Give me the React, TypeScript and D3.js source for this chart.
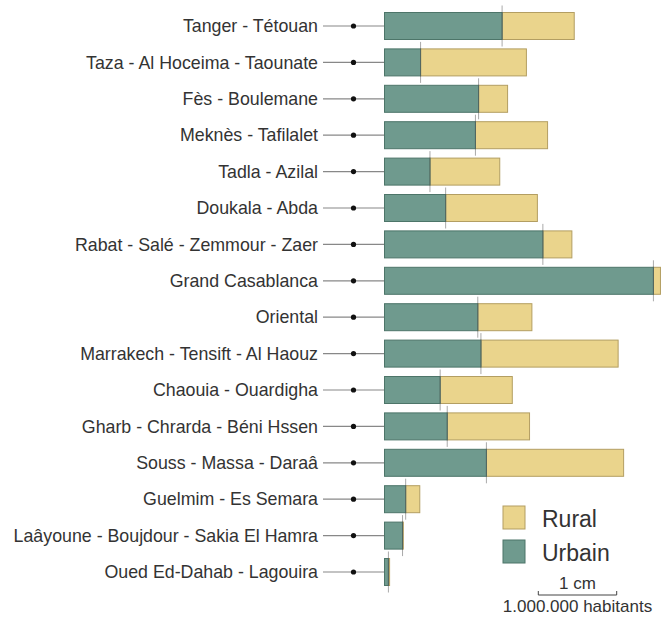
import React from "react";
import * as d3 from "d3";

const regions = [
  "Tanger - Tétouan",
  "Taza - Al Hoceima - Taounate",
  "Fès - Boulemane",
  "Meknès - Tafilalet",
  "Tadla - Azilal",
  "Doukala - Abda",
  "Rabat - Salé - Zemmour - Zaer",
  "Grand Casablanca",
  "Oriental",
  "Marrakech - Tensift - Al Haouz",
  "Chaouia - Ouardigha",
  "Gharb - Chrarda - Béni Hssen",
  "Souss - Massa - Daraâ",
  "Guelmim - Es Semara",
  "Laâyoune - Boujdour - Sakia El Hamra",
  "Oued Ed-Dahab - Lagouira",
];

// millions d'habitants
const urbain = [1.50, 0.46, 1.20, 1.16, 0.58, 0.78, 2.02, 3.43, 1.19, 1.23, 0.71, 0.80, 1.30, 0.27, 0.23, 0.05];
const rural = [0.92, 1.35, 0.37, 0.92, 0.89, 1.17, 0.37, 0.09, 0.69, 1.75, 0.92, 1.05, 1.75, 0.18, 0.01, 0.015];

const legendLabels = ["Rural", "Urbain"];
const scaleValue = 1;
const scaleTop = "1 cm";
const scaleBottom = "1.000.000 habitants";

const W = 663;
const H = 618;
const URB = "#6f9a8e";
const URB_S = "#4d7569";
const RUR = "#ead48c";
const RUR_S = "#b39e62";
const FONT = "'Liberation Sans', Arial, sans-serif";

export default function App() {
  const x = d3.scaleLinear().domain([0, 1]).range([384.5, 384.5 + 78.4]);
  const y = d3.scalePoint<string>().domain(regions).range([26, 572]);
  const bh = 27;
  const sx0 = 538.3;
  const sx1 = sx0 + (x(scaleValue) - x(0));
  const scx = (sx0 + sx1) / 2;

  return (
    <svg
      width={W}
      height={H}
      style={{ position: "absolute", left: 0, top: 0, background: "#fff" }}
      fontFamily={FONT}
    >
      {regions.map((r, i) => {
        const cy = y(r)!;
        const u = urbain[i];
        const ru = rural[i];
        return (
          <g key={r}>
            <text x={318} y={cy} dy="0.35em" textAnchor="end" fontSize={17.8} fill="#333">
              {r}
            </text>
            <line x1={323} x2={x(0)} y1={cy} y2={cy} stroke="#888" strokeWidth={1.2} />
            <circle cx={353.5} cy={cy} r={2.6} fill="#111" />
            <rect
              x={x(u)}
              y={cy - bh / 2}
              width={x(u + ru) - x(u)}
              height={bh}
              fill={RUR}
              stroke={RUR_S}
              strokeWidth={1}
            />
            <rect
              x={x(0)}
              y={cy - bh / 2}
              width={x(u) - x(0)}
              height={bh}
              fill={URB}
              stroke={URB_S}
              strokeWidth={1}
            />
            <line
              x1={x(u)}
              x2={x(u)}
              y1={cy - bh / 2 - 7}
              y2={cy + bh / 2 + 7}
              stroke="#555"
              strokeOpacity={0.5}
              strokeWidth={1}
            />
          </g>
        );
      })}

      {legendLabels.map((l, i) => (
        <g key={l} transform={`translate(503,${506 + i * 34})`}>
          <rect width={22} height={23} fill={i === 0 ? RUR : URB} stroke={i === 0 ? RUR_S : URB_S} strokeWidth={1} />
          <text x={39} y={20.5} fontSize={23} fill="#333">
            {l}
          </text>
        </g>
      ))}

      <g>
        <path d={`M${sx0},591 V595 H${sx1} V591`} fill="none" stroke="#444" strokeWidth={1} />
        <text x={scx} y={589} textAnchor="middle" fontSize={17} fill="#333">
          {scaleTop}
        </text>
        <text x={scx} y={612} textAnchor="middle" fontSize={17} fill="#333">
          {scaleBottom}
        </text>
      </g>
    </svg>
  );
}
